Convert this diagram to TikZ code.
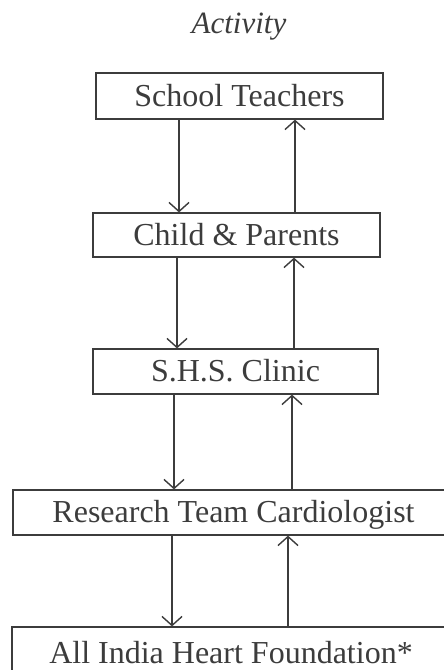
\documentclass[tikz,border=0pt]{standalone}
\usepackage{fontspec}
\setmainfont{Liberation Serif}
\usetikzlibrary{arrows.meta}
\definecolor{inkgray}{HTML}{3C3C3C}
\tikzset{
    >={Straight Barb[length=9pt,width=20pt,line width=1.4pt]}, % open V head
    stagebox/.style={draw=inkgray, line width=1.2pt, text=inkgray,
        font=\fontsize{32}{38}\selectfont, inner sep=0pt,
        text height=20pt, text depth=0pt},
    flowline/.style={->, draw=inkgray, line width=1.3pt},
    titlelabel/.style={font=\fontsize{31}{36}\selectfont\itshape, text=inkgray}
}
\begin{document}
\begin{tikzpicture}[x=1pt, y=-1pt]
  \useasboundingbox (0,0) rectangle (444,670);
  \clip (0,0) rectangle (444,670);
  %\draw[red, dashed] (current bounding box.south west) rectangle (current bounding box.north east);

  % Title
  \node[titlelabel, anchor=base] (title) at (239,33) {Activity};

  % Stages
  \node[stagebox, minimum width=287pt, minimum height=46pt] (teachers) at (239.5,96) {School Teachers};
  \node[stagebox, minimum width=287pt, minimum height=44pt] (parents) at (236.5,235) {Child \& Parents};
  \node[stagebox, minimum width=285pt, minimum height=45pt] (clinic) at (235.5,371.5) {S.H.S. Clinic};
  \node[stagebox, minimum width=441pt, minimum height=45pt] (research) at (233.5,512.5) {Research Team Cardiologist};
  \node[stagebox, minimum width=438pt, minimum height=52pt] (foundation) at (231,653) {All India Heart Foundation*};

  % Referral downwards, feedback upwards
  \draw[flowline] (teachers.south -| 179,0) -- (parents.north -| 179,0);
  \draw[flowline] (parents.north -| 295,0) -- (teachers.south -| 295,0);
  \draw[flowline] (parents.south -| 177,0) -- (clinic.north -| 177,0);
  \draw[flowline] (clinic.north -| 294,0) -- (parents.south -| 294,0);
  \draw[flowline] (clinic.south -| 174,0) -- (research.north -| 174,0);
  \draw[flowline] (research.north -| 292,0) -- (clinic.south -| 292,0);
  \draw[flowline] (research.south -| 172,0) -- (foundation.north -| 172,0);
  \draw[flowline] (foundation.north -| 288,0) -- (research.south -| 288,0);

\end{tikzpicture}
\end{document}
